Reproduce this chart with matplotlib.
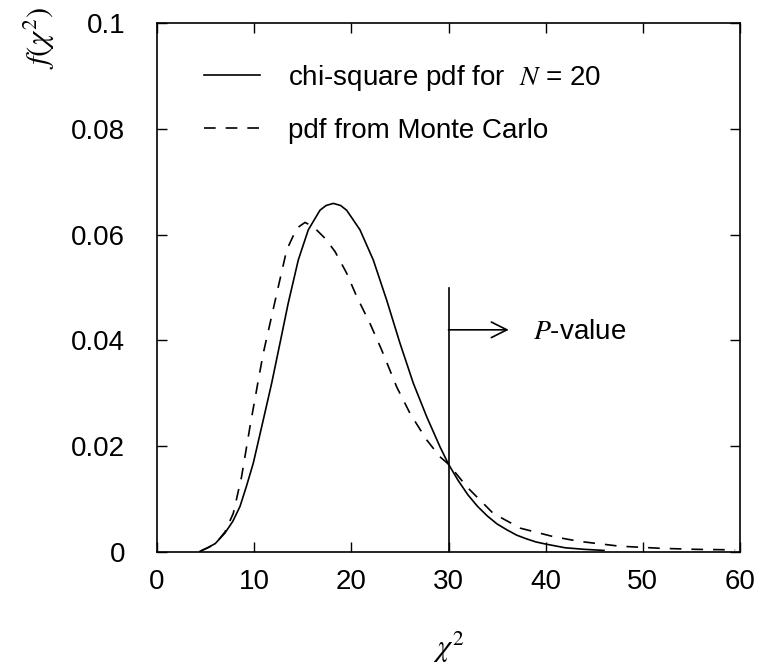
import matplotlib
matplotlib.use("Agg")
import matplotlib.pyplot as plt

plt.rcParams['font.family'] = ['Liberation Sans', 'DejaVu Sans']
plt.rcParams['mathtext.fontset'] = 'stix'

# chi-square pdf, N = 20
chi_x = [4.4, 5.1, 6.0, 7.0, 7.8, 8.54, 9.2, 9.91, 10.94, 11.8, 12.66, 13.5, 14.54, 15.57,
         16.77, 17.4, 18.15, 18.9, 19.52, 20.89, 22.26, 23.64, 25.0, 26.38, 27.75, 29.12,
         30, 31, 32, 33, 34, 35, 36, 37, 38, 39, 40, 42, 44, 46]
chi_y = [0.0001, 0.0007, 0.0016, 0.0036, 0.0058, 0.0086, 0.0124, 0.0168, 0.0250, 0.0319,
         0.0395, 0.0470, 0.0552, 0.0609, 0.0646, 0.0655, 0.0659, 0.0655, 0.0646, 0.0609,
         0.0552, 0.0476, 0.0395, 0.0319, 0.0256, 0.0199, 0.0166, 0.0135, 0.0108, 0.0086,
         0.0068, 0.0053, 0.0042, 0.0032, 0.0025, 0.0019, 0.0015, 0.0008, 0.0005, 0.0003]

# pdf from Monte Carlo (dashed curve)
mc_x = [4.5, 5.45, 6.3, 7.0, 7.85, 8.7, 9.57, 10.43, 10.94, 11.63, 12.49, 13.35, 14.38,
        15.23, 16.09, 17.29, 18.32, 19.52, 20.55, 21.92, 23.12, 24.67, 26.04, 27.75,
        29.12, 30.0, 31.9, 34.6, 37.4, 40.8, 43.5, 47.6, 51.8, 55.5, 59.5]
mc_y = [0.0002, 0.0010, 0.0022, 0.0038, 0.0073, 0.0142, 0.0237, 0.0325, 0.0376, 0.0432,
        0.0502, 0.0571, 0.0612, 0.0623, 0.0615, 0.0593, 0.0568, 0.0527, 0.0483, 0.0432,
        0.0382, 0.0312, 0.0262, 0.0212, 0.0180, 0.0166, 0.0123, 0.0073, 0.0045, 0.0029,
        0.0020, 0.0011, 0.0007, 0.0005, 0.0004]

x_ticks = [0, 10, 20, 30, 40, 50, 60]
y_ticks = [0, 0.02, 0.04, 0.06, 0.08, 0.1]
y_tick_labels = ['0', '0.02', '0.04', '0.06', '0.08', '0.1']

chi_cut = 30        # observed chi-square
cut_top = 0.05
arrow_end = 36.2
arrow_y = 0.042

fig = plt.figure(figsize=(7.64, 6.68), dpi=100)
ax = fig.add_axes([157 / 764, 1 - 552 / 668, 583 / 764, 529 / 668])

ax.plot(chi_x, chi_y, color='black', lw=1.2,
        label=r'chi-square pdf for  $N$ = 20')
ax.plot(mc_x, mc_y, color='black', lw=1.2, dashes=(7, 6),
        label='pdf from Monte Carlo')

# cut line and P-value arrow
ax.plot([chi_cut, chi_cut], [0, cut_top], color='black', lw=1.2)
ax.annotate('', xy=(arrow_end, arrow_y), xytext=(chi_cut, arrow_y),
            arrowprops=dict(arrowstyle='->', lw=1.2, color='black',
                            mutation_scale=28, shrinkA=0, shrinkB=0))
ax.text(38.7, arrow_y - 0.0004, r'$P$-value', fontsize=20, va='center', ha='left')

ax.set_xlim(0, 60)
ax.set_ylim(0, 0.1)
ax.set_xticks(x_ticks)
ax.set_yticks(y_ticks)
ax.set_yticklabels(y_tick_labels)
ax.tick_params(direction='in', top=True, right=True, length=7, width=1.0,
               labelsize=20)
ax.tick_params(axis='x', pad=12)
ax.tick_params(axis='y', pad=23)
for s in ax.spines.values():
    s.set_linewidth(1.2)

ax.set_xlabel(r'$\chi^2$', fontsize=22, va='center')
ax.xaxis.set_label_coords(0.5, -0.181)
ax.set_ylabel(r'$f(\chi^2)$', fontsize=22, va='center')
ax.yaxis.set_label_coords(-0.202, 0.972)

ax.legend(loc='upper left', bbox_to_anchor=(0.062, 0.945), frameon=False,
          fontsize=20, handlelength=2.0, handletextpad=1.0, labelspacing=0.9,
          borderaxespad=0)

fig.savefig('out.png', dpi=100)
